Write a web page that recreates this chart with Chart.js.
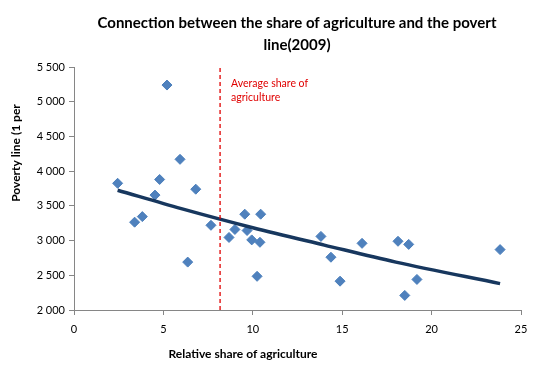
<!DOCTYPE html>
<html>
<head>
<meta charset="utf-8">
<script src="https://cdn.jsdelivr.net/npm/chart.js@4"></script>
<style>
  html, body { margin: 0; padding: 0; background: #fff; }
  #wrap { width: 556px; height: 370px; }
</style>
</head>
<body>
<div id="wrap"><canvas id="chart" width="556" height="370"></canvas></div>
<script>
const titleLines = ['Connection between the share of agriculture and the povert', 'line(2009)']
const xTitle = 'Relative share of agriculture'
const yTitle = 'Poverty line (1 per'
const avgLabel = ['Average share of', 'agriculture']

// scatter points (share of agriculture, poverty line)
const shareX = [5.2, 5.93, 4.79, 2.44, 6.81, 4.53, 3.39, 3.82, 7.66, 6.36, 8.67, 9.0, 9.55,
  10.44, 9.68, 9.94, 10.4, 10.24, 13.81, 14.37, 14.88, 16.11, 18.12, 18.72, 18.5, 19.18, 23.83]
const povertyY = [5240, 4170, 3880, 3825, 3740, 3655, 3265, 3345, 3220, 2690, 3045, 3160, 3380,
  3380, 3145, 3010, 2975, 2485, 3060, 2760, 2415, 2960, 2990, 2945, 2210, 2440, 2870]

// trend line
const trendX = [2.44, 6, 10, 14, 18, 23.83]
const trendY = [3725, 3460, 3185, 2935, 2690, 2380]

// average share marker
const avgShare = 8.17

const xTicks = [0, 5, 10, 15, 20, 25]
const yTicks = [2000, 2500, 3000, 3500, 4000, 4500, 5000, 5500]
const yTickLabels = ['2 000', '2 500', '3 000', '3 500', '4 000', '4 500', '5 000', '5 500']

const FONT = 'Lato, "Open Sans", sans-serif'

const textPlugin = {
  id: 'texts',
  afterDraw(chart) {
    const ctx = chart.ctx
    const { x } = chart.scales
    ctx.save()
    ctx.fillStyle = '#000'
    ctx.textBaseline = 'middle'
    ctx.textAlign = 'center'
    ctx.font = 'bold 15px ' + FONT
    ctx.fillText(titleLines[0], 297, 23)
    ctx.fillText(titleLines[1], 297, 45)

    ctx.font = 'bold 12px ' + FONT
    ctx.fillText(xTitle, 243, 354)

    ctx.save()
    ctx.translate(16, 153)
    ctx.rotate(-Math.PI / 2)
    ctx.fillText(yTitle, 0, 0)
    ctx.restore()

    ctx.fillStyle = '#e00000'
    ctx.textAlign = 'left'
    ctx.font = '10.5px ' + FONT
    const lx = x.getPixelForValue(avgShare) + 11
    ctx.fillText(avgLabel[0], lx, 84)
    ctx.fillText(avgLabel[1], lx, 98)
    ctx.restore()
  }
}

new Chart(document.getElementById('chart'), {
  type: 'scatter',
  data: {
    datasets: [
      {
        label: 'Average',
        type: 'line',
        data: [{ x: avgShare, y: yTicks[0] }, { x: avgShare, y: yTicks[yTicks.length - 1] }],
        borderColor: '#e00000',
        borderWidth: 1.3,
        borderDash: [4, 3],
        pointRadius: 0,
        fill: false
      },
      {
        label: 'Trend',
        type: 'line',
        data: trendX.map((v, i) => ({ x: v, y: trendY[i] })),
        borderColor: '#17375E',
        borderWidth: 3.5,
        pointRadius: 0,
        cubicInterpolationMode: 'monotone',
        fill: false
      },
      {
        label: 'Countries',
        data: shareX.map((v, i) => ({ x: v, y: povertyY[i] })),
        pointStyle: 'rectRot',
        pointRadius: 5,
        backgroundColor: '#4F81BD',
        borderColor: '#4A7EBB',
        borderWidth: 1
      }
    ]
  },
  options: {
    responsive: false,
    animation: false,
    layout: { padding: { left: 0, right: 35, top: 67, bottom: 0 } },
    plugins: {
      legend: { display: false },
      tooltip: { enabled: false }
    },
    scales: {
      x: {
        type: 'linear',
        min: 0,
        max: 25,
        afterFit: s => { s.height = 60 },
        afterBuildTicks: s => { s.ticks = xTicks.map(v => ({ value: v })) },
        grid: { drawOnChartArea: false, drawTicks: true, tickLength: 5, color: '#868686' },
        border: { display: true, color: '#868686', width: 1 },
        ticks: { color: '#000', padding: 8, font: { family: FONT, size: 11 } }
      },
      y: {
        min: 2000,
        max: 5500,
        afterFit: s => { s.width = 74 },
        afterBuildTicks: s => { s.ticks = yTicks.map(v => ({ value: v })) },
        grid: { drawOnChartArea: false, drawTicks: true, tickLength: 5, color: '#868686' },
        border: { display: true, color: '#868686', width: 1 },
        ticks: {
          color: '#000',
          padding: 4,
          font: { family: FONT, size: 11 },
          callback: (v) => yTickLabels[yTicks.indexOf(v)]
        }
      }
    }
  },
  plugins: [textPlugin]
})
</script>
</body>
</html>
